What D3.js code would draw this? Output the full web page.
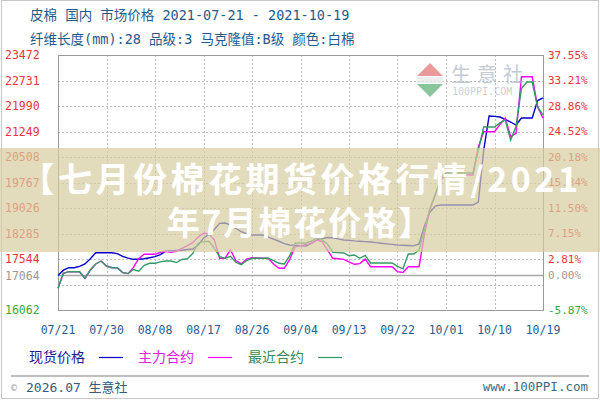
<!DOCTYPE html>
<html>
<head>
<meta charset="utf-8">
<script src="https://cdn.jsdelivr.net/npm/d3@7"></script>
<style>
  body { margin: 0; background: #fff; }
  svg { display: block; }
</style>
</head>
<body>
<svg id="chart" width="600" height="400"></svg>
<script>
// price ticks on the left, percent labels on the right (same order)
const priceTicks = [16062, 17064, 17544, 18285, 19026, 19767, 20508, 21249, 21990, 22731, 23472];
const pctTicks = ["-5.87%", "0.00%", "2.81%", "7.15%", "11.50%", "15.84%", "20.18%", "24.52%", "28.86%", "33.21%", "37.55%"];
const gridPrices = [16803, 17544, 18285, 19026, 19767, 20508, 21249, 21990, 22731];
const basePrice = 17064;
const dateTicks = ["07/21", "07/30", "08/08", "08/17", "08/26", "09/04", "09/13", "09/22", "10/01", "10/10", "10/19"];
const startDay = "2021-07-21";
const endDay = "2021-10-19";

// daily values, 07/21 .. 10/19
const spot = [17064,17220,17291,17291,17330,17400,17550,17727,17727,17727,
  17727,17700,17620,17570,17535,17535,17550,17580,17611,17670,
  17770,17780,17790,17800,17820,17835,17950,18150,18260,18400,
  18580,18590,18532,18430,18340,18280,18242,18242,18242,18180,
  18120,18060,17990,17950,17940,17930,17922,18000,18090,18130,
  18170,18160,18130,18096,18085,18070,18060,18050,18038,18020,
  18000,17985,17970,17951,17945,17935,17925,17980,18500,18900,
  19080,19113,19113,19113,19113,19113,19113,19113,19200,20712,
  21700,21690,21670,21600,21525,21438,21642,21642,21642,22150,
  22223];
const mainContract = [16693,17128,17175,17175,17175,16983,17224,17400,17486,17340,
  17291,17291,17150,17120,17300,17560,17681,17681,17681,17740,
  17770,17740,17770,17850,17930,18020,18180,18291,18280,18100,
  17564,17564,17806,17500,17400,17540,17582,17575,17570,17564,
  17400,17274,17274,17530,17900,17931,17960,17990,18096,18047,
  17806,17564,17550,17535,17460,17390,17410,17540,17320,17320,
  17320,17320,17320,17175,17150,17320,17320,17320,18260,18980,
  19420,19850,19985,19985,19985,19985,19985,19985,20799,21243,
  21243,21243,21450,21633,21100,21197,22842,22842,22842,21970,
  21633];
const nearContract = [16693,17128,17175,17175,17175,16983,17224,17400,17486,17340,
  17291,17291,17150,17120,17240,17190,17360,17419,17419,17460,
  17486,17486,17440,17530,17550,17700,18000,18050,18060,17860,
  17610,17564,17620,17450,17380,17500,17564,17564,17564,17564,
  17500,17420,17399,17640,18009,18009,18009,18060,18160,18100,
  17980,17740,17730,17720,17640,17660,17564,17650,17428,17428,
  17428,17428,17428,17330,17260,17689,17689,17800,18400,19000,
  19400,19900,20043,20043,20043,20043,20043,20043,20700,21380,
  21380,21380,21500,21583,21000,21400,22500,22688,22688,21961,
  21729];

const seriesNames = ["现货价格", "主力合约", "最近合约"];
const seriesColors = ["#0000cc", "#ff00ff", "#339966"];
const legendText = ["#1a1aa0", "#e020e0", "#3a8a5a"];

const svg = d3.select("#chart");
const mono = "'DejaVu Sans Mono', 'Noto Sans CJK SC', monospace";
const cjk = "'Noto Sans CJK SC', sans-serif";

const plotL = 58, plotR = 543, plotT = 55, plotB = 310;
const parseDay = d3.timeParse("%Y-%m-%d");
const days = d3.timeDay.range(parseDay(startDay), d3.timeDay.offset(parseDay(endDay), 1));

const x = d3.scaleTime().domain([parseDay(startDay), parseDay(endDay)]).range([plotL, plotR]);
const y = d3.scaleLinear().domain([16062, 23472]).range([plotB, plotT]);

// outer border
svg.append("rect").attr("x", 1.5).attr("y", 0.5).attr("width", 597).attr("height", 398)
  .attr("fill", "none").attr("stroke", "#c8c8c8");

// header
svg.append("text").attr("x", 30).attr("y", 20).attr("font-family", mono).attr("font-size", 13.5)
  .attr("fill", "#1f5c8b").attr("xml:space", "preserve").text("皮棉 国内 市场价格 2021-07-21 - 2021-10-19");
svg.append("text").attr("x", 30).attr("y", 44).attr("font-family", mono).attr("font-size", 13.5)
  .attr("fill", "#1f5c8b").attr("xml:space", "preserve").text("纤维长度(mm):28 品级:3 马克隆值:B级 颜色:白棉");

// grid
const grid = svg.append("g");
grid.selectAll("line.h").data(gridPrices).enter().append("line")
  .attr("x1", plotL).attr("x2", plotR)
  .attr("y1", d => Math.round(y(d)) + 0.5).attr("y2", d => Math.round(y(d)) + 0.5)
  .attr("stroke", "#c0c0c0").attr("stroke-dasharray", "2,2");
const tickDates = dateTicks.map(t => d3.timeParse("%Y/%m/%d")("2021/" + t));
grid.selectAll("line.v").data(tickDates.slice(1, -1)).enter().append("line")
  .attr("x1", d => Math.round(x(d)) + 0.5).attr("x2", d => Math.round(x(d)) + 0.5)
  .attr("y1", plotT).attr("y2", plotB)
  .attr("stroke", "#c0c0c0").attr("stroke-dasharray", "2,2");
grid.append("line").attr("x1", plotL).attr("x2", plotR)
  .attr("y1", y(basePrice)).attr("y2", y(basePrice))
  .attr("stroke", "#a8a8a8").attr("stroke-width", 1.5);

// frame
svg.append("rect").attr("x", plotL + 0.5).attr("y", plotT + 0.5)
  .attr("width", plotR - plotL).attr("height", plotB - plotT)
  .attr("fill", "none").attr("stroke", "#999");

// axis labels
const labColor = p => p > basePrice ? "#e8343c" : (p < basePrice ? "#3aa83a" : "#9a9a9a");
svg.append("g").selectAll("text").data(priceTicks).enter().append("text")
  .attr("x", 5).attr("y", d => y(d)).attr("dy", "0.35em")
  .attr("font-family", mono).attr("font-size", 11.5)
  .attr("fill", d => labColor(d)).text(d => d);
svg.append("g").selectAll("text").data(priceTicks).enter().append("text")
  .attr("x", 548).attr("y", d => y(d)).attr("dy", "0.35em")
  .attr("font-family", mono).attr("font-size", 11)
  .attr("fill", d => labColor(d)).text((d, i) => pctTicks[i]);
svg.append("g").selectAll("text").data(tickDates).enter().append("text")
  .attr("x", d => x(d)).attr("y", 334).attr("text-anchor", "middle")
  .attr("font-family", mono).attr("font-size", 11.5)
  .attr("fill", "#2a5d8f").text((d, i) => dateTicks[i]);

// series lines
const line = d3.line().x((d, i) => x(days[i])).y(d => y(d));
[spot, mainContract, nearContract].forEach((s, k) => {
  svg.append("path").datum(s).attr("d", line)
    .attr("fill", "none").attr("stroke", seriesColors[k]).attr("stroke-width", 1.4);
});

// watermark
const wm = svg.append("g").attr("opacity", 0.7);
wm.append("path").attr("d", "M430,63 L443,76 L417,76 Z").attr("fill", "#e07070");
wm.append("rect").attr("x", 417).attr("y", 77).attr("width", 26).attr("height", 6).attr("fill", "#e8e8e8");
wm.append("path").attr("d", "M417,84 L443,84 L430,97 Z").attr("fill", "#5aae72");
wm.append("text").attr("x", 451).attr("y", 82).attr("font-family", cjk).attr("font-size", 20)
  .attr("letter-spacing", 6).attr("fill", "#aab6c2").text("生意社");
wm.append("text").attr("x", 452).attr("y", 95).attr("font-family", mono).attr("font-size", 10)
  .attr("fill", "#b4bcc6").text("100PPI.COM");

// overlay band with the article title
svg.append("rect").attr("x", 0).attr("y", 148).attr("width", 600).attr("height", 104)
  .attr("fill", "rgba(215,205,160,0.7)");
svg.append("text").attr("x", 301).attr("y", 192).attr("text-anchor", "middle")
  .attr("font-family", cjk).attr("font-weight", 700).attr("font-size", 34).attr("letter-spacing", 3.5)
  .attr("fill", "#fff").text("【七月份棉花期货价格行情/2021");
svg.append("text").attr("x", 300).attr("y", 235).attr("text-anchor", "middle")
  .attr("font-family", cjk).attr("font-weight", 700).attr("font-size", 33).attr("letter-spacing", 2)
  .attr("fill", "#fff").text("年7月棉花价格】");

// legend
const legendX = [29, 138, 248];
seriesNames.forEach((n, k) => {
  svg.append("text").attr("x", legendX[k]).attr("y", 362)
    .attr("font-family", cjk).attr("font-size", 14).attr("fill", legendText[k]).text(n);
  svg.append("line").attr("x1", legendX[k] + 70).attr("x2", legendX[k] + 94)
    .attr("y1", 357.5).attr("y2", 357.5).attr("stroke", seriesColors[k]).attr("stroke-width", 1.2);
});

// footer
svg.append("line").attr("x1", 11).attr("x2", 589).attr("y1", 376).attr("y2", 376)
  .attr("stroke", "#a8a8a8").attr("stroke-width", 1.5);
svg.append("text").attr("x", 11).attr("y", 391).attr("font-family", mono).attr("font-size", 10)
  .attr("fill", "#a0a0a0").text("©");
svg.append("text").attr("x", 26).attr("y", 392).attr("font-family", mono).attr("font-size", 13)
  .attr("fill", "#3a5a7a").text("2026.07 生意社");
svg.append("text").attr("x", 588).attr("y", 391).attr("text-anchor", "end").attr("font-family", mono)
  .attr("font-size", 12.5).attr("fill", "#3a6a8a").text("www.100PPI.com");
</script>
</body>
</html>
